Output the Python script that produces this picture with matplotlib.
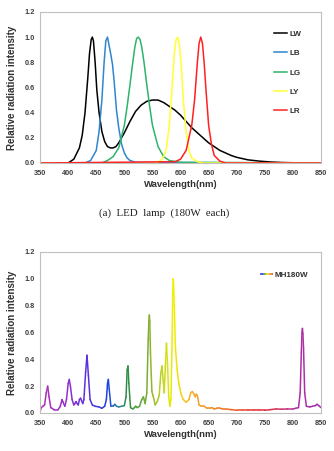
import matplotlib
matplotlib.use("Agg")
import matplotlib.pyplot as plt
import numpy as np
from matplotlib.collections import LineCollection
from matplotlib.colors import LinearSegmentedColormap
from matplotlib.legend_handler import HandlerBase
from matplotlib.lines import Line2D

plt.rcParams["font.family"] = ["Liberation Sans", "DejaVu Sans"]

# ---- LED lamp spectra (a) ----
lw_wl = [350, 400, 410, 420, 425, 430, 435, 438, 441, 443, 445, 448, 451, 455, 460, 465, 470,
         475, 480, 485, 490, 500, 510, 520, 530, 540, 550, 560, 570, 580, 590, 600,
         610, 620, 630, 640, 650, 660, 670, 680, 690, 700, 720, 740, 760, 780, 800, 850]
lw_val = [0.0, 0.0, 0.03, 0.12, 0.22, 0.40, 0.68, 0.87, 0.98, 1.0, 0.97, 0.80, 0.58, 0.40, 0.25, 0.17, 0.13,
          0.12, 0.12, 0.13, 0.16, 0.24, 0.33, 0.41, 0.46, 0.49, 0.50, 0.50, 0.48, 0.45, 0.42, 0.38,
          0.33, 0.28, 0.24, 0.20, 0.16, 0.13, 0.10, 0.08, 0.06, 0.045, 0.025, 0.015, 0.008, 0.004, 0.002, 0.0]

lb_wl = [350, 430, 440, 450, 455, 460, 464, 467, 470, 473, 476, 479, 482, 486, 490, 495, 500, 505, 510, 520, 850]
lb_val = [0.0, 0.0, 0.02, 0.10, 0.25, 0.50, 0.80, 0.97, 1.0, 0.93, 0.86, 0.78, 0.64, 0.42, 0.28, 0.15, 0.08, 0.04, 0.02, 0.005, 0.0]

lg_wl = [350, 460, 470, 480, 490, 500, 505, 510, 515, 519, 522, 525, 528, 531, 535, 540, 545, 550, 560, 570, 580, 600, 850]
lg_val = [0.0, 0.0, 0.02, 0.05, 0.12, 0.30, 0.45, 0.62, 0.80, 0.93, 0.99, 1.0, 0.98, 0.92, 0.80, 0.62, 0.45, 0.30, 0.13, 0.05, 0.02, 0.005, 0.0]

ly_wl = [350, 555, 565, 570, 575, 580, 585, 589, 592, 595, 598, 601, 605, 610, 615, 620, 630, 640, 850]
ly_val = [0.0, 0.0, 0.02, 0.05, 0.12, 0.30, 0.60, 0.87, 0.98, 1.0, 0.94, 0.80, 0.50, 0.25, 0.10, 0.04, 0.01, 0.0, 0.0]

lr_wl = [350, 590, 600, 610, 620, 625, 630, 633, 636, 639, 642, 645, 650, 655, 660, 670, 680, 850]
lr_val = [0.0, 0.01, 0.03, 0.10, 0.30, 0.50, 0.80, 0.95, 1.0, 0.95, 0.80, 0.60, 0.30, 0.15, 0.06, 0.015, 0.0, 0.0]

led_names = ["LW", "LB", "LG", "LY", "LR"]
led_colors = ["#000000", "#2F86CF", "#2DB36B", "#FFFF33", "#FF2020"]

# ---- Metal halide spectrum (b) ----
mh_wl = [350, 352, 355, 358, 361, 363.5, 366, 369, 375, 382,
         386, 389, 391, 394, 397, 400, 402, 404, 407, 410,
         412, 414, 416, 418, 420, 422, 424, 426, 428, 431,
         433.5, 436, 439, 443, 448, 455, 460, 465, 468, 470,
         471.5, 473, 476, 480, 483, 486, 490, 495, 500, 503,
         505, 506.5, 508, 511, 515, 518, 520, 523, 527, 531,
         534, 537, 540, 542.5, 543.7, 544.5, 545.3, 546.5, 549, 551, 555, 559,
         562, 565, 567, 569, 571, 573, 575, 577, 579, 581,
         583, 585, 586.2, 587, 587.8, 589, 591, 594, 597, 601, 605, 610,
         615, 618, 621, 624, 626, 628, 630, 633, 637, 642,
         647, 652, 656, 660, 665, 670, 675, 680, 690, 700,
         710, 720, 730, 740, 750, 760, 770, 780, 790, 800,
         805, 810, 813, 815, 816.2, 817, 817.8, 819, 821, 824, 830, 835,
         840, 843, 846, 850]
mh_val = [0.01, 0.04, 0.05, 0.06, 0.15, 0.20, 0.12, 0.04, 0.025, 0.025,
          0.05, 0.10, 0.08, 0.05, 0.10, 0.22, 0.25, 0.20, 0.10, 0.06,
          0.07, 0.085, 0.07, 0.06, 0.10, 0.11, 0.09, 0.07, 0.10, 0.30,
          0.43, 0.28, 0.10, 0.06, 0.05, 0.045, 0.035, 0.05, 0.10, 0.22,
          0.25, 0.18, 0.05, 0.05, 0.065, 0.05, 0.045, 0.05, 0.055, 0.12,
          0.32, 0.35, 0.22, 0.04, 0.03, 0.04, 0.05, 0.04, 0.05, 0.10,
          0.12, 0.07, 0.15, 0.55, 0.69, 0.73, 0.68, 0.45, 0.16, 0.13, 0.06, 0.09,
          0.13, 0.30, 0.35, 0.25, 0.15, 0.35, 0.52, 0.35, 0.12, 0.05,
          0.10, 0.55, 0.90, 1.0, 0.94, 0.78, 0.48, 0.32, 0.22, 0.14, 0.10, 0.08,
          0.10, 0.15, 0.16, 0.14, 0.12, 0.14, 0.13, 0.06, 0.05, 0.05,
          0.035, 0.035, 0.04, 0.03, 0.035, 0.035, 0.03, 0.03, 0.025, 0.02,
          0.02, 0.02, 0.02, 0.02, 0.02, 0.025, 0.03, 0.028, 0.03, 0.03,
          0.035, 0.04, 0.15, 0.45, 0.60, 0.63, 0.59, 0.48, 0.15, 0.05, 0.045, 0.05,
          0.055, 0.065, 0.055, 0.04]

# colour of the MH trace along the wavelength axis
rainbow_stops = [(350, "#B030B0"), (400, "#9030D0"), (434, "#5a30e0"), (470, "#2040E0"),
                 (490, "#2a8a9a"), (505, "#2E8B40"), (530, "#5aa83a"), (545, "#8DB030"),
                 (570, "#C8D820"), (587, "#F2F000"), (620, "#F0B030"), (670, "#F08020"),
                 (730, "#E83030"), (780, "#D03060"), (805, "#B030A0"), (850, "#A030B0")]

tick_color = "#404040"
spine_color = "#BFBFBF"


def style_axes(ax):
    ax.set_xlim(350, 850)
    ax.set_ylim(0, 1.2)
    ax.set_xticks(np.arange(350, 851, 50))
    ax.set_yticks(np.arange(0, 1.21, 0.2))
    ax.yaxis.set_major_formatter(plt.FormatStrFormatter("%.1f"))
    ax.tick_params(length=0, labelsize=5.3, colors=tick_color, pad=4)
    ax.tick_params(axis="x", pad=5)
    for lab in ax.get_xticklabels() + ax.get_yticklabels():
        lab.set_fontweight("bold")
    for sp in ax.spines.values():
        sp.set_color(spine_color)
        sp.set_linewidth(0.8)
    ax.set_xlabel("Wavelength(nm)", fontsize=6.8, fontweight="bold", color="#303030", labelpad=2)
    ax.set_ylabel("Relative radiation intensity", fontsize=7.0, fontweight="bold",
                  color="#303030", labelpad=5)


class GradientHandler(HandlerBase):
    def create_artists(self, legend, orig_handle, xdescent, ydescent, width, height,
                       fontsize, trans):
        xs = np.linspace(-xdescent, width - xdescent, 30)
        y = height / 2 - ydescent
        segs = [[(xs[i], y), (xs[i + 1], y)] for i in range(len(xs) - 1)]
        cols = mh_cmap(np.linspace(0.15, 0.75, len(segs)))
        lc = LineCollection(segs, colors=cols, linewidths=1.2, transform=trans)
        return [lc]


stop_pos = [(w - 350) / 500 for w, _ in rainbow_stops]
mh_cmap = LinearSegmentedColormap.from_list("mh", list(zip(stop_pos, [c for _, c in rainbow_stops])))

fig = plt.figure(figsize=(3.34, 4.51), dpi=100)
ax1 = fig.add_axes([0.120, 0.6386, 0.841, 0.335])
ax2 = fig.add_axes([0.120, 0.0843, 0.841, 0.357])

series = [(lw_wl, lw_val), (lb_wl, lb_val), (lg_wl, lg_val), (ly_wl, ly_val), (lr_wl, lr_val)]
for (wl, val), name, col in zip(series, led_names, led_colors):
    ax1.plot(wl, val, color=col, lw=1.1, label=name)
style_axes(ax1)
ax1.legend(loc="upper left", bbox_to_anchor=(0.82, 0.905), frameon=False, borderpad=0,
           handlelength=1.6, handletextpad=0.3, labelspacing=1.45,
           prop={"size": 5.8, "weight": "bold"}, labelcolor="#303030")

x = np.asarray(mh_wl, dtype=float)
y = np.asarray(mh_val, dtype=float)
pts = np.column_stack([x, y]).reshape(-1, 1, 2)
segs = np.concatenate([pts[:-1], pts[1:]], axis=1)
mid = (x[:-1] + x[1:]) / 2
lc = LineCollection(segs, colors=mh_cmap((mid - 350) / 500), linewidths=1.1,
                    capstyle="round", joinstyle="round")
ax2.add_collection(lc)
style_axes(ax2)
proxy = Line2D([], [], color="#B030B0")
ax2.legend([proxy], ["MH180W"], handler_map={Line2D: GradientHandler()},
           loc="upper left", bbox_to_anchor=(0.77, 0.905), frameon=False, borderpad=0,
           handlelength=1.6, handletextpad=0.2,
           prop={"size": 5.8, "weight": "bold"}, labelcolor="#303030")

fig.text(0.49, 1 - 213 / 451, "(a)  LED  lamp  (180W  each)", ha="center", va="center",
         fontsize=7.8, family=["Liberation Serif", "DejaVu Serif"], color="#202020")

fig.savefig("out.png", dpi=100)
